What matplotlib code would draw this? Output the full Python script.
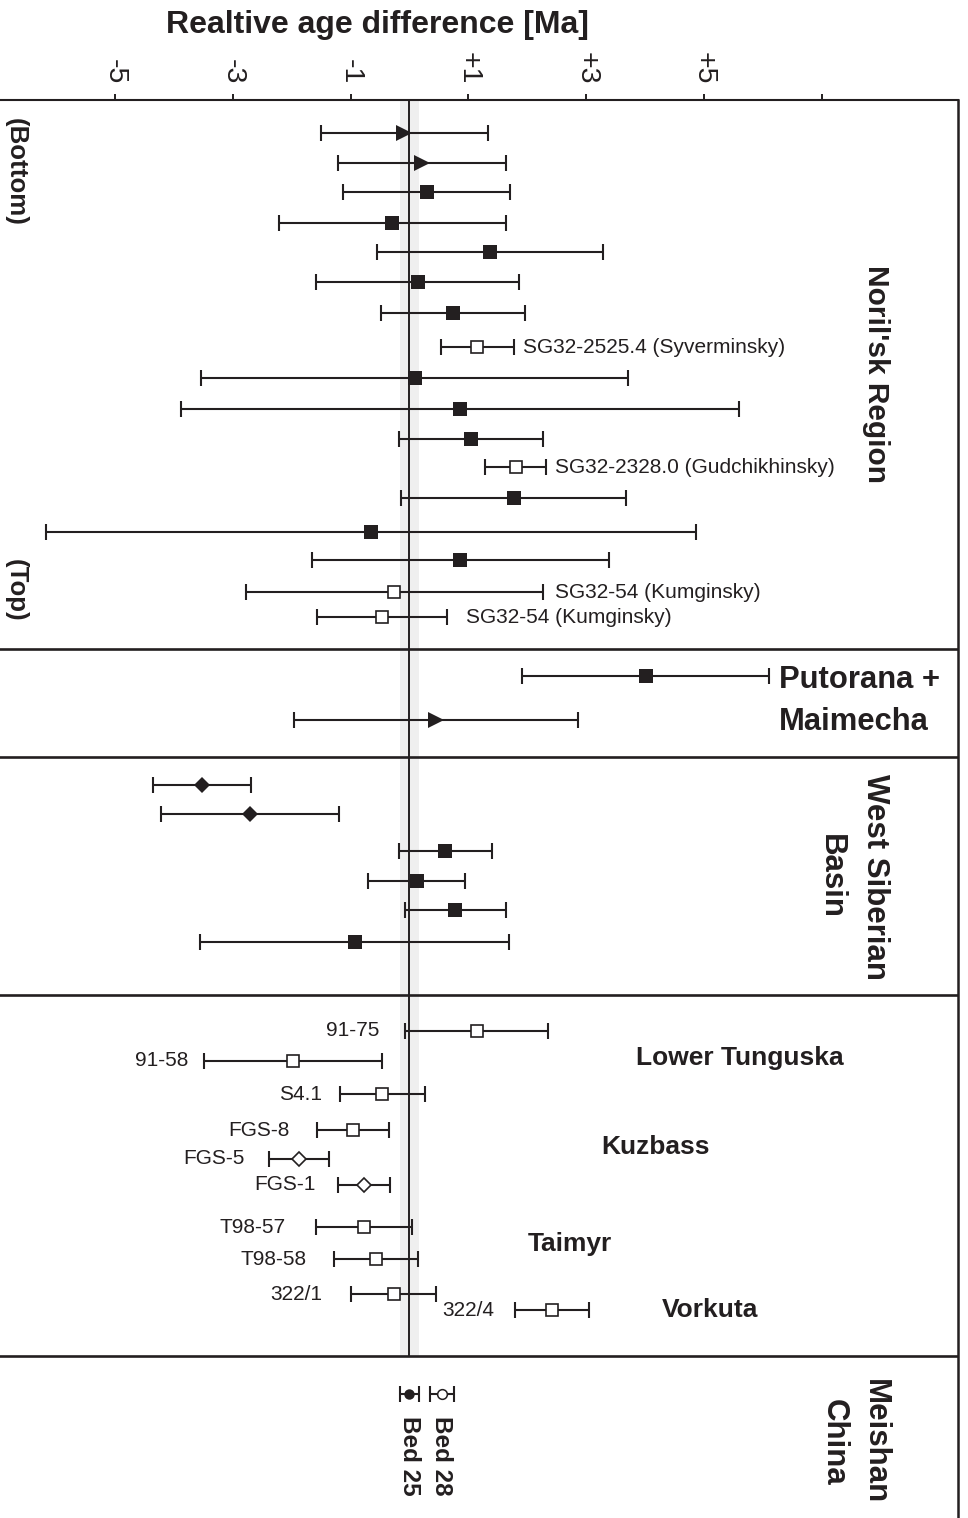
import matplotlib
matplotlib.use('Agg')
import matplotlib.pyplot as plt
import numpy as np

plt.rcParams['font.family'] = ['Liberation Sans', 'DejaVu Sans']

ink = '#231f20'

# --- ages relative to Meishan Bed 25 [Ma] and 2-sigma errors ---
# Noril'sk region, stratigraphic bottom to top
nor_age = [-0.09, 0.21, 0.29, -0.29, 1.37, 0.14, 0.74, 1.15, 0.09, 0.86,
           1.04, 1.80, 1.77, -0.65, 0.86, -0.26, -0.47]
nor_err = [1.42, 1.42, 1.42, 1.92, 1.92, 1.72, 1.22, 0.62, 3.62, 4.73,
           1.22, 0.51, 1.91, 5.52, 2.52, 2.52, 1.10]
nor_kind = ['tri', 'tri', 'sq', 'sq', 'sq', 'sq', 'sq', 'osq', 'sq', 'sq',
            'sq', 'osq', 'sq', 'sq', 'sq', 'osq', 'osq']
nor_label = ['', '', '', '', '', '', '', 'SG32-2525.4 (Syverminsky)', '', '',
             '', 'SG32-2328.0 (Gudchikhinsky)', '', '', '',
             'SG32-54 (Kumginsky)', 'SG32-54 (Kumginsky)']

# Putorana + Maimecha
put_age = [4.01, 0.45]
put_err = [2.10, 2.41]
put_kind = ['sq', 'tri']

# West Siberian Basin
wsb_age = [-3.52, -2.70, 0.61, 0.12, 0.78, -0.93]
wsb_err = [0.83, 1.51, 0.79, 0.82, 0.85, 2.62]
wsb_kind = ['dia', 'dia', 'sq', 'sq', 'sq', 'sq']

# Lower Tunguska, Kuzbass, Taimyr, Vorkuta
low_name = ['91-75', '91-58', 'S4.1', 'FGS-8', 'FGS-5', 'FGS-1',
            'T98-57', 'T98-58', '322/1', '322/4']
low_age = [1.14, -1.98, -0.46, -0.96, -1.87, -0.77, -0.77, -0.57, -0.27, 2.42]
low_err = [1.21, 1.51, 0.72, 0.61, 0.51, 0.44, 0.81, 0.71, 0.72, 0.63]
low_kind = ['osq', 'osq', 'osq', 'osq', 'odia', 'odia',
            'osq', 'osq', 'osq', 'osq']

# Meishan, China
bed_name = ['Bed 25', 'Bed 28']
bed_age = [0.0, 0.55]
bed_err = [0.165, 0.21]
bed_kind = ['circ', 'ocirc']

xticks = [-5, -3, -1, 1, 3, 5, 7]
xtick_labels = ['-5', '-3', '-1', '+1', '+3', '+5', '']

# --- layout (vertical slots, top of frame = 100) ---
nor_y = [132.7, 162.7, 192.3, 223.3, 251.7, 281.7, 313.3, 347.3, 378.3, 409,
         438.7, 467.3, 497.7, 531.7, 559.7, 592, 617.3]
nor_gap = [0, 0, 0, 0, 0, 0, 0, 7, 0, 0, 0, 7, 0, 0, 0, 9, 14]
put_y = [676, 720]
wsb_y = [785, 814.3, 851, 881, 910, 942.3]
low_y = [1031, 1061, 1094, 1130.3, 1159, 1185, 1227.3, 1259.3, 1294, 1310]
low_gap = [19, 11, 13, 20, 18, 16, 22, 20, 21, 15]
bed_y = 1394
dividers = [649, 757, 995, 1356]
top = 100

styles = {
    'sq':    dict(marker='s', ms=10.0, mfc=ink, mec=ink, mew=0),
    'tri':   dict(marker='>', ms=12.0, mfc=ink, mec=ink, mew=0),
    'osq':   dict(marker='s', ms=8.2, mfc='white', mec=ink, mew=1.2),
    'dia':   dict(marker='D', ms=7.8, mfc=ink, mec=ink, mew=0),
    'odia':  dict(marker='D', ms=6.8, mfc='white', mec=ink, mew=1.2),
    'circ':  dict(marker='o', ms=7.5, mfc=ink, mec=ink, mew=0),
    'ocirc': dict(marker='o', ms=7.0, mfc='white', mec=ink, mew=1.1),
}


def draw(ax, ages, errs, ys, kinds):
    for a, e, y, k in zip(ages, errs, ys, kinds):
        ax.errorbar(a, y, xerr=e, fmt='none', ecolor=ink, elinewidth=1.5,
                    capsize=5.5, capthick=1.5, zorder=3)
        ax.plot(a, y, ls='none', zorder=4, **styles[k])


W, H = 968, 1518
fig = plt.figure(figsize=(W / 100, H / 100), dpi=100)
ax = fig.add_axes([0, -12 / H, 958 / W, (H - top + 12) / H])
ax.set_xlim(-6.95, 9.31)
ax.set_ylim(H + 12, top)

# Bed 25 reference age and its uncertainty, across the Siberian sections
ax.fill_betweenx([top, dividers[-1]], bed_age[0] - bed_err[0],
                 bed_age[0] + bed_err[0], color='#efefef', lw=0, zorder=0)
ax.vlines(bed_age[0], top, dividers[-1], color=ink, lw=1.4, zorder=2)
for d in dividers:
    ax.axhline(d, color=ink, lw=1.9, zorder=2)

draw(ax, nor_age, nor_err, nor_y, nor_kind)
draw(ax, put_age, put_err, put_y, put_kind)
draw(ax, wsb_age, wsb_err, wsb_y, wsb_kind)
draw(ax, low_age, low_err, low_y, low_kind)
draw(ax, bed_age, bed_err, [bed_y] * len(bed_age), bed_kind)

# sample labels
for a, e, y, lab, g in zip(nor_age, nor_err, nor_y, nor_label, nor_gap):
    if lab:
        ax.annotate(lab, (a + e, y), xytext=(g, 0), textcoords='offset points',
                    ha='left', va='center', fontsize=15, color=ink)
for a, e, y, lab, g in zip(low_age, low_err, low_y, low_name, low_gap):
    ax.annotate(lab, (a - e, y), xytext=(-g, 0), textcoords='offset points',
                ha='right', va='center', fontsize=15, color=ink)
for a, lab in zip(bed_age, bed_name):
    ax.text(a, 1416, lab, rotation=-90, ha='center', va='top',
            fontsize=17.5, weight='bold', color=ink)

# region labels
bold = dict(weight='bold', color=ink)
ax.text(-6.68, 171.5, '(Bottom)', rotation=-90, ha='center', va='center',
        fontsize=18.6, **bold)
ax.text(-6.68, 590.5, '(Top)', rotation=-90, ha='center', va='center',
        fontsize=18.6, **bold)
ax.text(7.92, 374, "Noril'sk Region", rotation=-90, ha='center', va='center',
        fontsize=21.5, **bold)
ax.text(6.27, 680, 'Putorana +', ha='left', va='center', fontsize=22.3, **bold)
ax.text(6.27, 722, 'Maimecha', ha='left', va='center', fontsize=22.3, **bold)
ax.text(7.53, 877, 'West Siberian\nBasin', rotation=-90, ha='center',
        va='center', multialignment='center', linespacing=1.6,
        fontsize=22.5, **bold)
ax.text(7.55, 1442, 'Meishan\nChina', rotation=-90, ha='center',
        va='center', multialignment='center', linespacing=1.45,
        fontsize=22.5, **bold)
ax.text(3.85, 1058, 'Lower Tunguska', ha='left', va='center', fontsize=19, **bold)
ax.text(3.25, 1147, 'Kuzbass', ha='left', va='center', fontsize=19, **bold)
ax.text(2.00, 1244, 'Taimyr', ha='left', va='center', fontsize=19, **bold)
ax.text(4.29, 1310, 'Vorkuta', ha='left', va='center', fontsize=19, **bold)

# axis on top
ax.xaxis.tick_top()
ax.set_xticks(xticks)
ax.set_xticklabels(xtick_labels)
ax.tick_params(axis='x', direction='out', length=4.3, width=1.4, pad=7,
               labelsize=20.5, labelrotation=-90, colors=ink)
ax.set_yticks([])
ax.spines['left'].set_visible(False)
ax.spines['bottom'].set_visible(False)
ax.spines['top'].set_linewidth(1.5)
ax.spines['right'].set_linewidth(1.8)
ax.spines['top'].set_color(ink)
ax.spines['right'].set_color(ink)

fig.text(377.5 / W, 1 - 33.3 / H, 'Realtive age difference [Ma]',
         ha='center', va='baseline', fontsize=23, weight='bold', color=ink)

fig.savefig('out.png', dpi=100)
